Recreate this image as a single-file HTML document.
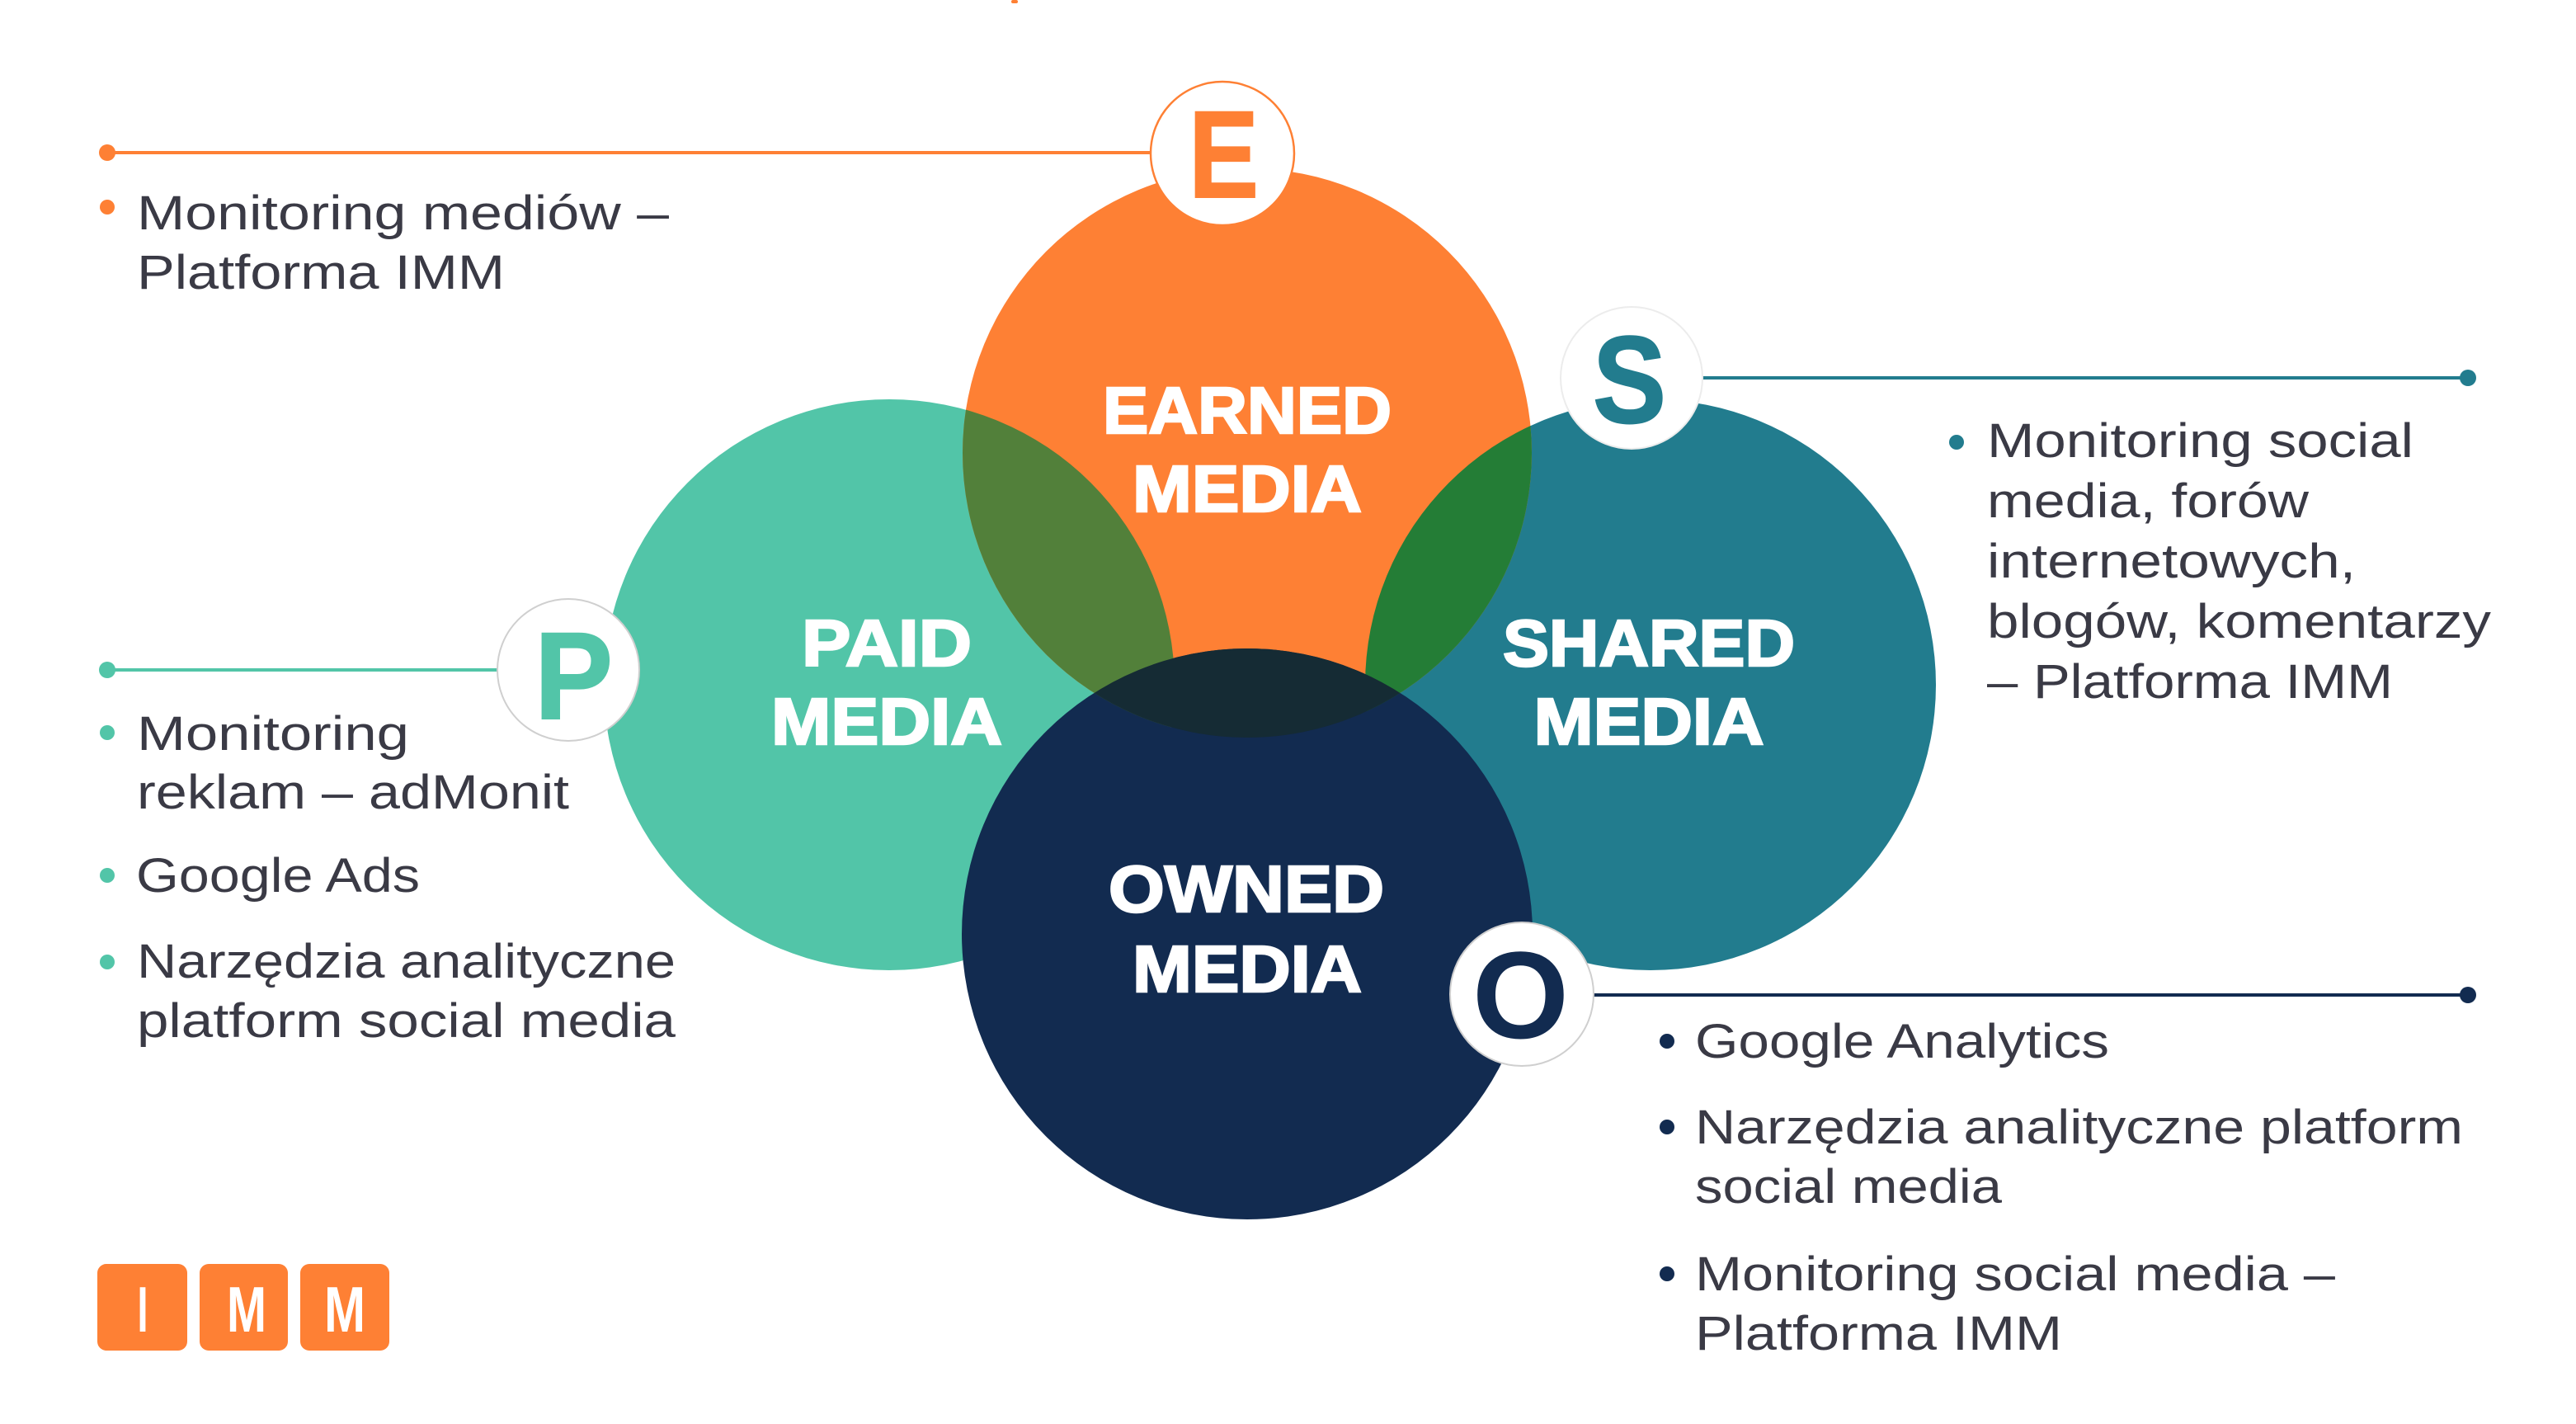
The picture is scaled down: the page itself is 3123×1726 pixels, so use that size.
<!DOCTYPE html>
<html>
<head>
<meta charset="utf-8">
<style>
  html,body{margin:0;padding:0;background:#fff;}
  svg{display:block;}
  .t{font-family:"Liberation Sans","DejaVu Sans",sans-serif;font-size:58px;fill:#3a3a45;}
  .lab{font-family:"Liberation Sans",sans-serif;font-weight:bold;font-size:80px;fill:#fff;stroke:#fff;stroke-width:2.5;paint-order:stroke;text-anchor:middle;}
  .bad{font-family:"Liberation Sans",sans-serif;font-weight:bold;font-size:150px;}
  .logo{font-family:"Liberation Sans",sans-serif;font-weight:bold;font-size:78px;fill:#fff;text-anchor:middle;}
</style>
</head>
<body>
<svg width="3123" height="1726" viewBox="0 0 3123 1726" xmlns="http://www.w3.org/2000/svg">
  <defs>
    <clipPath id="cE"><circle cx="1512" cy="549" r="345"/></clipPath>
  </defs>
  <rect x="0" y="0" width="3123" height="1726" fill="#ffffff"/>
  <rect x="1226" y="0" width="8" height="4" rx="2" fill="#fe8034"/>

  <!-- connector lines -->
  <line x1="130" y1="185" x2="1400" y2="185" stroke="#fe8034" stroke-width="4"/>
  <circle cx="130" cy="185" r="10" fill="#fe8034"/>
  <line x1="130" y1="812" x2="610" y2="812" stroke="#52c5a8" stroke-width="4"/>
  <circle cx="130" cy="812" r="10" fill="#52c5a8"/>
  <line x1="2060" y1="458" x2="2992" y2="458" stroke="#227c8e" stroke-width="4"/>
  <circle cx="2992" cy="458" r="10" fill="#227c8e"/>
  <line x1="1925" y1="1206" x2="2992" y2="1206" stroke="#122b50" stroke-width="4"/>
  <circle cx="2992" cy="1206" r="10" fill="#122b50"/>

  <!-- main circles -->
  <circle cx="1078" cy="830" r="346" fill="#52c5a8"/>
  <circle cx="2001" cy="830" r="346" fill="#227c8e"/>
  <circle cx="1512" cy="549" r="345" fill="#fe8034"/>
  <circle cx="1512" cy="1132" r="346" fill="#122b50"/>
  <g clip-path="url(#cE)">
    <circle cx="1078" cy="830" r="346" fill="#52803a"/>
    <circle cx="2001" cy="830" r="346" fill="#247d36"/>
    <circle cx="1512" cy="1132" r="346" fill="#152b34"/>
  </g>

  <!-- circle labels -->
  <text class="lab" x="1512" y="525" textLength="350" lengthAdjust="spacingAndGlyphs">EARNED</text>
  <text class="lab" x="1512" y="620" textLength="278" lengthAdjust="spacingAndGlyphs">MEDIA</text>
  <text class="lab" x="1075" y="807" textLength="206" lengthAdjust="spacingAndGlyphs">PAID</text>
  <text class="lab" x="1075" y="902" textLength="280" lengthAdjust="spacingAndGlyphs">MEDIA</text>
  <text class="lab" x="1999" y="807" textLength="354" lengthAdjust="spacingAndGlyphs">SHARED</text>
  <text class="lab" x="1999" y="902" textLength="279" lengthAdjust="spacingAndGlyphs">MEDIA</text>
  <text class="lab" x="1511" y="1105" textLength="334" lengthAdjust="spacingAndGlyphs">OWNED</text>
  <text class="lab" x="1512" y="1202" textLength="278" lengthAdjust="spacingAndGlyphs">MEDIA</text>

  <!-- badges -->
  <circle cx="1482" cy="186" r="87" fill="#fff" stroke="#fe8034" stroke-width="2.5"/>
  <text class="bad" x="1441" y="239" fill="#fe8034" stroke="#fe8034" stroke-width="2" textLength="85" lengthAdjust="spacingAndGlyphs">E</text>

  <circle cx="689" cy="812" r="86" fill="#fff" stroke="#cfcfcf" stroke-width="2"/>
  <text class="bad" x="648" y="871" fill="#52c5a8" stroke="#52c5a8" stroke-width="2" textLength="95" lengthAdjust="spacingAndGlyphs">P</text>

  <circle cx="1978" cy="458" r="86" fill="#fff" stroke="#ececec" stroke-width="2"/>
  <text class="bad" x="1931" y="512" fill="#227c8e" stroke="#227c8e" stroke-width="2" textLength="89" lengthAdjust="spacingAndGlyphs">S</text>

  <circle cx="1845" cy="1205" r="87" fill="#fff" stroke="#cfcfcf" stroke-width="2"/>
  <text class="bad" x="1785" y="1258" fill="#122b50" textLength="117" lengthAdjust="spacingAndGlyphs">O</text>

  <!-- Earned text -->
  <circle cx="130" cy="251" r="9" fill="#fe8034"/>
  <text class="t" x="166" y="278" textLength="645" lengthAdjust="spacingAndGlyphs">Monitoring mediów –</text>
  <text class="t" x="166" y="350" textLength="446" lengthAdjust="spacingAndGlyphs">Platforma IMM</text>

  <!-- Paid text -->
  <circle cx="130" cy="888" r="9" fill="#52c5a8"/>
  <text class="t" x="166" y="909" textLength="330" lengthAdjust="spacingAndGlyphs">Monitoring</text>
  <text class="t" x="166" y="980" textLength="524" lengthAdjust="spacingAndGlyphs">reklam – adMonit</text>
  <circle cx="130" cy="1061" r="9" fill="#52c5a8"/>
  <text class="t" x="165" y="1081" textLength="344" lengthAdjust="spacingAndGlyphs">Google Ads</text>
  <circle cx="130" cy="1166" r="9" fill="#52c5a8"/>
  <text class="t" x="166" y="1185" textLength="653" lengthAdjust="spacingAndGlyphs">Narzędzia analityczne</text>
  <text class="t" x="166" y="1257" textLength="653" lengthAdjust="spacingAndGlyphs">platform social media</text>

  <!-- Shared text -->
  <circle cx="2372" cy="536" r="9" fill="#227c8e"/>
  <text class="t" x="2409" y="554" textLength="517" lengthAdjust="spacingAndGlyphs">Monitoring social</text>
  <text class="t" x="2409" y="627" textLength="390" lengthAdjust="spacingAndGlyphs">media, forów</text>
  <text class="t" x="2409" y="700" textLength="447" lengthAdjust="spacingAndGlyphs">internetowych,</text>
  <text class="t" x="2409" y="773" textLength="611" lengthAdjust="spacingAndGlyphs">blogów, komentarzy</text>
  <text class="t" x="2409" y="846" textLength="492" lengthAdjust="spacingAndGlyphs">– Platforma IMM</text>

  <!-- Owned text -->
  <circle cx="2021" cy="1262" r="9" fill="#122b50"/>
  <text class="t" x="2055" y="1282" textLength="502" lengthAdjust="spacingAndGlyphs">Google Analytics</text>
  <circle cx="2021" cy="1366" r="9" fill="#122b50"/>
  <text class="t" x="2055" y="1386" textLength="931" lengthAdjust="spacingAndGlyphs">Narzędzia analityczne platform</text>
  <text class="t" x="2055" y="1458" textLength="372" lengthAdjust="spacingAndGlyphs">social media</text>
  <circle cx="2021" cy="1544" r="9" fill="#122b50"/>
  <text class="t" x="2055" y="1564" textLength="776" lengthAdjust="spacingAndGlyphs">Monitoring social media –</text>
  <text class="t" x="2055" y="1636" textLength="445" lengthAdjust="spacingAndGlyphs">Platforma IMM</text>

  <!-- IMM logo -->
  <rect x="118" y="1532" width="109" height="105" rx="11" fill="#fe8034"/>
  <rect x="242" y="1532" width="107" height="105" rx="11" fill="#fe8034"/>
  <rect x="364" y="1532" width="108" height="105" rx="11" fill="#fe8034"/>
  <text class="logo" x="173" y="1614" textLength="13" lengthAdjust="spacingAndGlyphs">I</text>
  <text class="logo" x="299" y="1614" textLength="48" lengthAdjust="spacingAndGlyphs">M</text>
  <text class="logo" x="418" y="1614" textLength="50" lengthAdjust="spacingAndGlyphs">M</text>
</svg>
</body>
</html>
